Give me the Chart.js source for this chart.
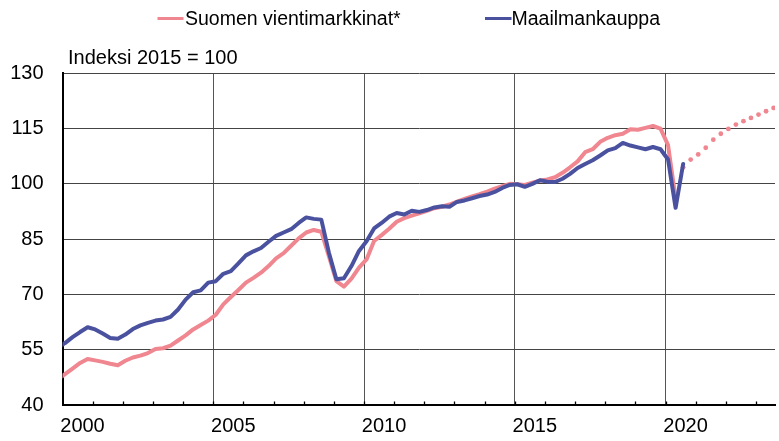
<!DOCTYPE html>
<html>
<head>
<meta charset="utf-8">
<script src="https://cdn.jsdelivr.net/npm/chart.js@4"></script>
<style>
html,body{margin:0;padding:0;background:#fff;}
#wrap{width:779px;height:441px;}
</style>
</head>
<body>
<div id="wrap"><canvas id="c" width="779" height="441"></canvas></div>
<script>
// ---------- DATA ----------
const seriesNames = ['Suomen vientimarkkinat*', 'Maailmankauppa'];
const axisTitle = 'Indeksi 2015 = 100';
const seriesColors = ['#F0868F', '#4A52A0'];

// quarterly categories, 1999Q4 ... 2023Q3
const quarters = [];
for (let y = 1999; y <= 2023; y++) {
  for (let q = 1; q <= 4; q++) {
    if (y === 1999 && q < 4) continue;
    if (y === 2023 && q > 3) continue;
    quarters.push(y + 'Q' + q);
  }
}

// Suomen vientimarkkinat* (from 1999Q4 to 2020Q2)
const exportMarkets = [
  46.9,
  48.4, 49.9, 51.4, 52.5,
  52.1, 51.7, 51.2, 50.8,
  52.0, 52.9, 53.4, 54.1,
  55.2, 55.4, 56.1, 57.5,
  58.9, 60.5, 61.7, 62.9,
  64.5, 67.3, 69.3, 71.2,
  73.2, 74.5, 75.9, 77.7,
  79.8, 81.2, 83.2, 85.2,
  86.8, 87.5, 87.0, 80.4,
  73.6, 72.1, 74.3, 77.3,
  79.5, 84.5, 86.1, 87.8,
  89.7, 90.7, 91.4, 92.0,
  92.7, 93.4, 93.8, 94.4,
  95.2, 95.9, 96.6, 97.2,
  97.9, 98.7, 99.4, 100.0,
  99.9, 99.7, 100.3, 100.9,
  101.2, 101.8, 103.0, 104.5,
  106.1, 108.6, 109.4, 111.4,
  112.5, 113.2, 113.6, 114.8,
  114.7, 115.2, 115.7, 115.0,
  110.5, 96.0
];

// Suomen vientimarkkinat* forecast (from 2020Q3 to 2023Q3)
const forecastStart = '2020Q3';
const exportMarketsForecast = [
  104.5, 106.6,
  108.0, 109.8, 112.0, 113.6,
  114.9, 116.1, 117.0, 117.9,
  118.8, 119.7, 120.6
];

// Maailmankauppa (from 1999Q4 to 2020Q3)
const worldTrade = [
  55.6,
  56.8, 58.4, 59.8, 61.1,
  60.5, 59.4, 58.2, 58.0,
  59.1, 60.6, 61.6, 62.3,
  62.9, 63.2, 63.9, 65.9,
  68.6, 70.6, 71.1, 73.2,
  73.6, 75.6, 76.3, 78.4,
  80.6, 81.7, 82.6, 84.3,
  85.9, 86.8, 87.7, 89.4,
  90.9, 90.5, 90.3, 81.4,
  74.1, 74.4, 77.7, 81.8,
  84.4, 87.9, 89.4, 91.1,
  92.1, 91.7, 92.7, 92.4,
  92.9, 93.6, 93.9, 93.8,
  95.1, 95.5, 96.1, 96.7,
  97.1, 97.8, 98.9, 99.7,
  99.9, 99.2, 100.0, 101.0,
  100.6, 100.5, 101.4, 102.7,
  104.3, 105.4, 106.4, 107.7,
  109.1, 109.7, 111.1, 110.4,
  109.9, 109.4, 110.0, 109.4,
  106.6, 93.5, 105.4
];

const yTickValues = [40, 55, 70, 85, 100, 115, 130];
const xLabelYears = [2000, 2005, 2010, 2015, 2020];
const xMinorYears = [];
for (let y = 2000; y <= 2023; y++) xMinorYears.push(y);
const xMin = 2000, xMax = 2023.63;

// quarter label -> position on the time axis (middle month of quarter)
function quarterPos(label) {
  const parts = label.split('Q');
  return Number(parts[0]) + (Number(parts[1]) - 1) / 4 + 1 / 12;
}
function toPoints(values, startLabel) {
  const start = quarters.indexOf(startLabel);
  return values.map((v, i) => ({ x: quarterPos(quarters[start + i]), y: v }));
}

// ---------- CHART ----------
const FONT = '"Liberation Sans", Arial, Helvetica, sans-serif';
Chart.defaults.font.family = FONT;
Chart.defaults.font.size = 20;
Chart.defaults.color = '#000';

const overlay = {
  id: 'overlay',
  afterDraw(chart) {
    const ctx = chart.ctx;
    const xs = chart.scales.x;
    const area = chart.chartArea;
    ctx.save();
    // inward minor ticks on the time axis
    ctx.strokeStyle = '#000';
    ctx.lineWidth = 1.3;
    xMinorYears.forEach(yr => {
      if (yr === xMin) return;
      const px = Math.round(xs.getPixelForValue(yr)) + 0.5;
      ctx.beginPath();
      ctx.moveTo(px, area.bottom);
      ctx.lineTo(px, area.bottom - 3.5);
      ctx.stroke();
    });
    // unit title
    ctx.fillStyle = '#000';
    ctx.textAlign = 'left';
    ctx.textBaseline = 'alphabetic';
    ctx.font = '20px ' + FONT;
    ctx.fillText(axisTitle, 68, 64);
    // legend
    ctx.font = '19.5px ' + FONT;
    const items = [
      { x: 157.5, w: 26, tx: 185, color: seriesColors[0], text: seriesNames[0] },
      { x: 485, w: 26.5, tx: 511.5, color: seriesColors[1], text: seriesNames[1] }
    ];
    items.forEach(it => {
      ctx.fillStyle = it.color;
      ctx.fillRect(it.x, 17, it.w, 3);
      ctx.fillStyle = '#000';
      ctx.fillText(it.text, it.tx, 25);
    });
    ctx.restore();
  }
};

new Chart(document.getElementById('c'), {
  type: 'line',
  data: {
    datasets: [
      {
        label: seriesNames[1],
        data: toPoints(worldTrade, quarters[0]),
        borderColor: seriesColors[1],
        backgroundColor: seriesColors[1],
        borderWidth: 4,
        pointRadius: 0,
        tension: 0,
        borderJoinStyle: 'round',
        borderCapStyle: 'round',
        clip: 0,
        order: 0
      },
      {
        label: seriesNames[0],
        data: toPoints(exportMarkets, quarters[0]),
        borderColor: seriesColors[0],
        backgroundColor: seriesColors[0],
        borderWidth: 4,
        pointRadius: 0,
        tension: 0,
        borderJoinStyle: 'round',
        borderCapStyle: 'round',
        clip: 0,
        order: 1
      },
      {
        label: seriesNames[0] + ' ennuste',
        data: toPoints(exportMarketsForecast, forecastStart),
        showLine: false,
        pointRadius: 2.4,
        pointBorderWidth: 0,
        pointBackgroundColor: seriesColors[0],
        borderColor: seriesColors[0],
        clip: 0,
        order: 2
      }
    ]
  },
  options: {
    responsive: false,
    animation: false,
    devicePixelRatio: 1,
    events: [],
    layout: { padding: { top: 73.3, left: 0, right: 0, bottom: 0 } },
    plugins: {
      legend: { display: false },
      tooltip: { enabled: false },
      title: { display: false }
    },
    scales: {
      x: {
        type: 'linear',
        min: xMin,
        max: xMax,
        afterBuildTicks(scale) {
          scale.ticks = xMinorYears.map(v => ({ value: v }));
        },
        afterFit(scale) { scale.height = 36; },
        ticks: {
          autoSkip: false,
          maxRotation: 0,
          minRotation: 0,
          labelOffset: 20,
          padding: 9,
          font: { size: 20 },
          color: '#000',
          callback: v => (xLabelYears.includes(v) ? String(v) : '')
        },
        grid: {
          drawTicks: false,
          lineWidth: 1,
          color: c => (c.tick && xLabelYears.includes(c.tick.value) && c.tick.value !== xMin) ? '#555' : 'rgba(0,0,0,0)'
        },
        border: { display: true, color: '#000', width: 2 }
      },
      y: {
        type: 'linear',
        min: 40,
        max: 130,
        afterBuildTicks(scale) {
          scale.ticks = yTickValues.map(v => ({ value: v }));
        },
        afterFit(scale) { scale.width = 62.5; },
        ticks: {
          padding: 19,
          font: { size: 20 },
          color: '#000'
        },
        grid: {
          drawTicks: false,
          lineWidth: 1,
          color: '#444'
        },
        border: { display: true, color: '#000', width: 2 }
      }
    }
  },
  plugins: [overlay]
});
</script>
</body>
</html>
